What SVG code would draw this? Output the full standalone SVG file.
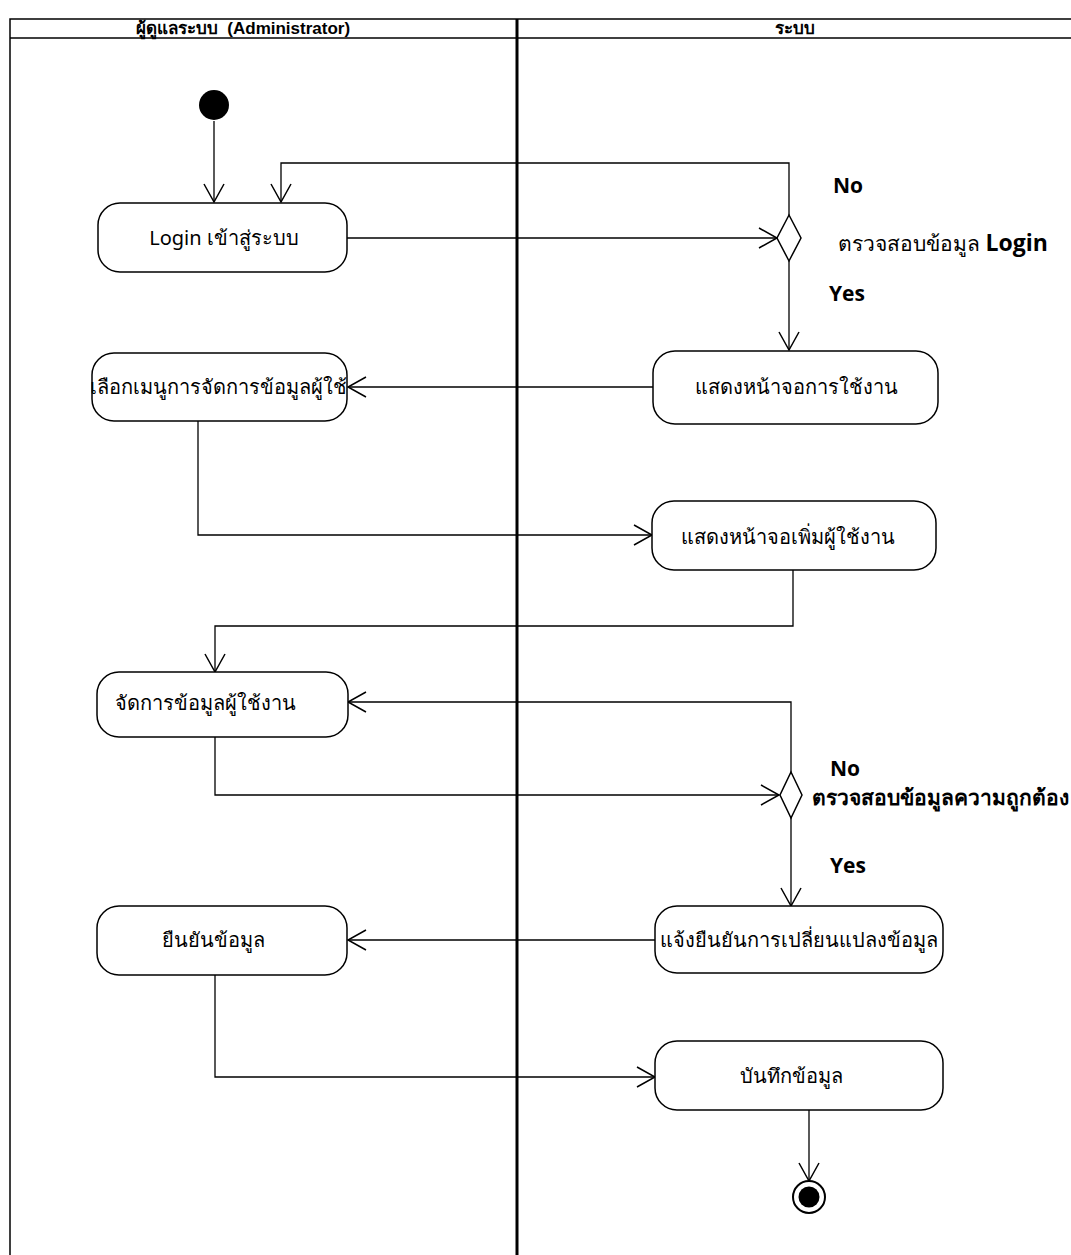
<svg xmlns="http://www.w3.org/2000/svg" width="1071" height="1255" viewBox="0 0 1071 1255">
<style>
.frame{fill:none;stroke:#000;stroke-width:1.5}
.box{fill:#fff;stroke:#000;stroke-width:1.5}
.lbl{font-family:"Noto Sans","Liberation Sans",sans-serif;font-size:20px;fill:#000;text-anchor:middle}
.hdr{font-family:"Liberation Sans","Noto Sans",sans-serif;font-size:17px;font-weight:bold;fill:#000;text-anchor:middle}
.guard{font-family:"Open Sans","Liberation Sans",sans-serif;font-size:21px;font-weight:bold;fill:#000}
.cond{font-family:"Noto Sans","Liberation Sans",sans-serif;font-size:21px;fill:#000}
.conn{fill:none;stroke:#000;stroke-width:1.3}
</style>
<defs>
<marker id="arr" viewBox="-20 -12 22 24" markerWidth="22" markerHeight="24" refX="0" refY="0" orient="auto" markerUnits="userSpaceOnUse">
<path d="M-18,-10 L0,0 L-18,10" fill="none" stroke="#000" stroke-width="1.5"/>
</marker>
</defs>
<rect width="1071" height="1255" fill="#fff"/>
<g id="swimlanes">
<path class="frame" d="M10,1255 L10,19 L1071,19"/>
<line x1="10" y1="38" x2="1071" y2="38" stroke="#000" stroke-width="1.5"/>
<line x1="517" y1="19" x2="517" y2="1255" stroke="#000" stroke-width="3"/>
<text class="hdr" x="243" y="34" xml:space="preserve">ผู้ดูแลระบบ  (Administrator)</text>
<text class="hdr" x="795" y="34">ระบบ</text>
</g>
<g id="connectors">
<path class="conn" d="M214,121 L214,202" marker-end="url(#arr)"/>
<path class="conn" d="M789,215 L789,163 L281,163 L281,202" marker-end="url(#arr)"/>
<path class="conn" d="M347,238 L777,238" marker-end="url(#arr)"/>
<path class="conn" d="M789,261 L789,350" marker-end="url(#arr)"/>
<path class="conn" d="M653,387 L348,387" marker-end="url(#arr)"/>
<path class="conn" d="M198,421 L198,535 L652,535" marker-end="url(#arr)"/>
<path class="conn" d="M793,570 L793,626 L215,626 L215,672" marker-end="url(#arr)"/>
<path class="conn" d="M791,772 L791,702 L348,702" marker-end="url(#arr)"/>
<path class="conn" d="M215,737 L215,795 L779,795" marker-end="url(#arr)"/>
<path class="conn" d="M791,818 L791,906" marker-end="url(#arr)"/>
<path class="conn" d="M655,940 L348,940" marker-end="url(#arr)"/>
<path class="conn" d="M215,975 L215,1077 L655,1077" marker-end="url(#arr)"/>
<path class="conn" d="M809,1110 L809,1181" marker-end="url(#arr)"/>
</g>
<g id="start"><circle cx="214" cy="105" r="15" fill="#000"/></g>
<g id="login"><rect class="box" x="98" y="203" width="249" height="69" rx="22"/><text class="lbl" x="224" y="245">Login เข้าสู่ระบบ</text></g>
<g id="decision1">
<polygon points="789,215 801,238 789,261 777,238" fill="#fff" stroke="#000" stroke-width="1.5"/>
<text class="guard" x="833" y="193">No</text>
<text class="cond" x="838" y="251">ตรวจสอบข้อมูล <tspan font-family="Open Sans, Liberation Sans, sans-serif" font-weight="bold" font-size="23">Login</tspan></text>
<text class="guard" x="829" y="301">Yes</text>
</g>
<g id="showMain"><rect class="box" x="653" y="351" width="285" height="73" rx="22"/><text class="lbl" x="796" y="394">แสดงหน้าจอการใช้งาน</text></g>
<g id="selectMenu"><rect class="box" x="92" y="353" width="255" height="68" rx="22"/><text class="lbl" x="218" y="394" font-size="19.5">เลือกเมนูการจัดการข้อมูลผู้ใช้</text></g>
<g id="showAdd"><rect class="box" x="652" y="501" width="284" height="69" rx="22"/><text class="lbl" x="788" y="544">แสดงหน้าจอเพิ่มผู้ใช้งาน</text></g>
<g id="manage"><rect class="box" x="97" y="672" width="251" height="65" rx="22"/><text class="lbl" x="205" y="710">จัดการข้อมูลผู้ใช้งาน</text></g>
<g id="decision2">
<polygon points="791,772 802,795 791,818 780,795" fill="#fff" stroke="#000" stroke-width="1.5"/>
<text class="guard" x="830" y="776">No</text>
<text class="cond" x="812" y="805" font-weight="bold" font-size="19">ตรวจสอบข้อมูลความถูกต้อง</text>
<text class="guard" x="830" y="873">Yes</text>
</g>
<g id="confirmMsg"><rect class="box" x="655" y="906" width="288" height="67" rx="22"/><text class="lbl" x="799" y="947" font-size="19.5">แจ้งยืนยันการเปลี่ยนแปลงข้อมูล</text></g>
<g id="confirm"><rect class="box" x="97" y="906" width="250" height="69" rx="22"/><text class="lbl" x="213" y="947">ยืนยันข้อมูล</text></g>
<g id="save"><rect class="box" x="655" y="1041" width="288" height="69" rx="22"/><text class="lbl" x="791" y="1083">บันทึกข้อมูล</text></g>
<g id="end"><circle cx="809" cy="1197" r="16" fill="#fff" stroke="#000" stroke-width="2"/><circle cx="809" cy="1197" r="10.5" fill="#000"/></g>
</svg>
